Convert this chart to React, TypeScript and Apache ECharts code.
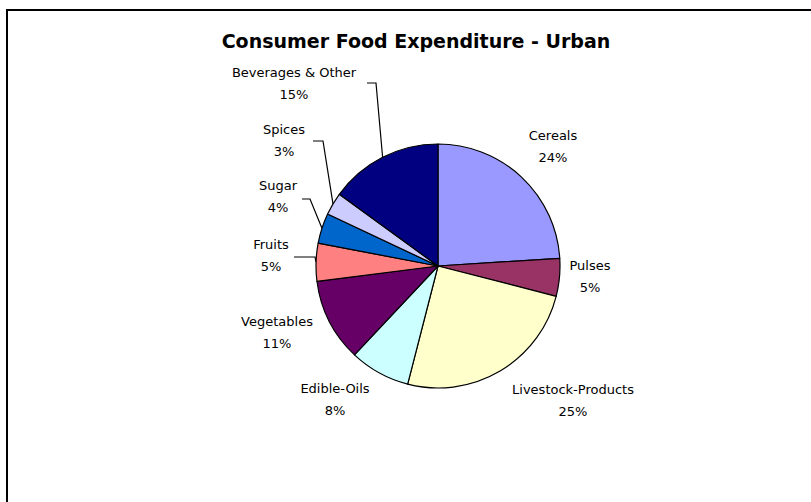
import React, { useEffect, useRef } from "react";
import * as echarts from "echarts";

const categories = [
  "Cereals",
  "Pulses",
  "Livestock-Products",
  "Edible-Oils",
  "Vegetables",
  "Fruits",
  "Sugar",
  "Spices",
  "Beverages & Other",
];
const shares = [24, 5, 25, 8, 11, 5, 4, 3, 15];
const sliceColors = [
  "#9999FF",
  "#993366",
  "#FFFFCC",
  "#CCFFFF",
  "#660066",
  "#FF8080",
  "#0066CC",
  "#CCCCFF",
  "#000080",
];
const titleText = "Consumer Food Expenditure - Urban";

// label block centres (layout only)
const labelPos: [number, number][] = [
  [553, 146],
  [590, 276],
  [573, 400],
  [335, 399],
  [277, 332],
  [271, 255],
  [278, 196],
  [284, 140],
  [294, 83],
];
// leader line tail points (bend, label end) for labels that have a line
const leader: Record<number, [number, number][]> = {
  5: [[315, 257], [294, 257]],
  6: [[310, 199], [302, 199]],
  7: [[323, 141], [313, 141]],
  8: [[376, 83], [367, 83]],
};

export default function App() {
  const ref = useRef<HTMLDivElement>(null);
  useEffect(() => {
    if (!ref.current) return;
    const chart = echarts.init(ref.current, null, { renderer: "svg" });
    const data = categories.map((name, i) => ({
      name,
      value: shares[i],
      itemStyle: { color: sliceColors[i] },
      labelLine: { show: leader[i] != null },
    }));
    chart.setOption({
      animation: false,
      backgroundColor: "#ffffff",
      graphic: [
        {
          type: "rect",
          shape: { x: 7, y: 10, width: 900, height: 600 },
          style: { fill: "none", stroke: "#000", lineWidth: 2 },
          silent: true,
        },
        {
          type: "text",
          x: 416,
          y: 41,
          style: {
            text: titleText,
            font: "bold 19px 'DejaVu Sans'",
            fill: "#000",
            align: "center",
            verticalAlign: "middle",
          },
        },
      ],
      series: [
        {
          type: "pie",
          center: [438, 266],
          radius: 122,
          startAngle: 90,
          clockwise: true,
          data,
          itemStyle: { borderColor: "#000", borderWidth: 1.2 },
          label: {
            show: true,
            position: "outside",
            formatter: (p: any) => `${p.name}\n${p.value}%`,
            fontFamily: "DejaVu Sans",
            fontSize: 13,
            color: "#000",
            lineHeight: 22,
            align: "center",
          },
          labelLine: {
            show: true,
            length: 10,
            length2: 10,
            lineStyle: { color: "#000", width: 1.2 },
          },
          emphasis: { disabled: true },
          labelLayout: (params: any) => {
            const i = params.dataIndex;
            const [x, y] = labelPos[i];
            const out: any = { x, y, align: "center", verticalAlign: "middle" };
            if (leader[i] && params.labelLinePoints) {
              const edge = params.labelLinePoints[0];
              out.labelLinePoints = [edge, ...leader[i]];
            }
            return out;
          },
        },
      ],
    });
    return () => chart.dispose();
  }, []);
  return (
    <div
      ref={ref}
      style={{ position: "fixed", left: 0, top: 0, width: 811, height: 502 }}
    />
  );
}
